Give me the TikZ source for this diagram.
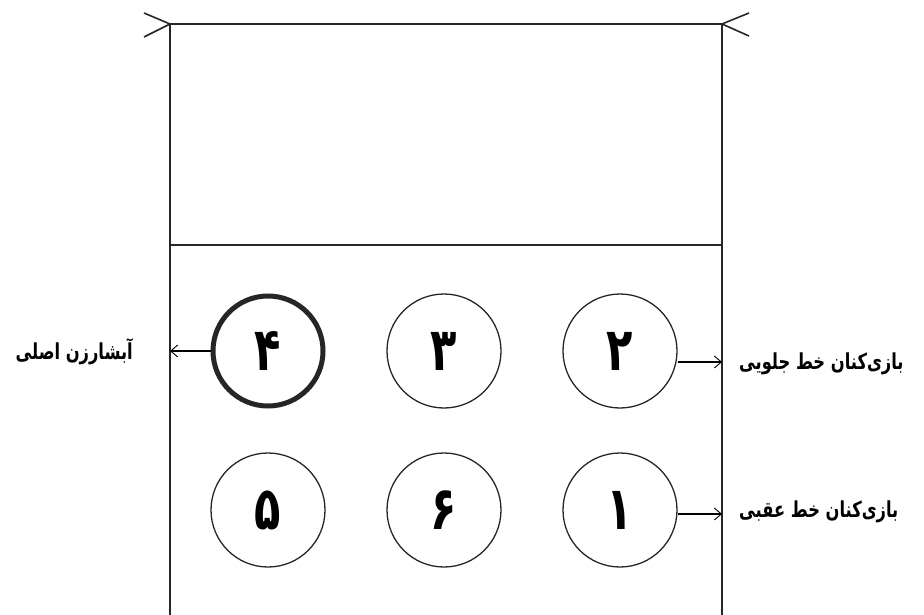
\documentclass[tikz,border=0pt]{standalone}
\usepackage{fontspec}
\usetikzlibrary{arrows.meta}
\TeXXeTstate=1
\newfontfamily\arabicfont[Script=Arabic]{DejaVu Sans}
\newcommand{\digit}[1]{\scalebox{0.72}[1]{\beginR #1\endR}}
\newcommand{\plabel}[1]{\scalebox{0.74}[1]{\beginR #1\endR}}
\tikzset{
  court/.style={line width=1.6pt, black!85},
  player/.style={circle, draw=black!85, line width=1.3pt, minimum size=114pt, inner sep=0pt, font=\arabicfont\fontsize{60}{60}\selectfont\bfseries},
  setter/.style={player, line width=5pt, minimum size=110pt},
  lbl/.style={font=\arabicfont\fontsize{22}{24}\selectfont\bfseries, inner sep=0pt},
  pointer/.style={line width=1.1pt, -{Straight Barb[length=7pt,width=12pt,line width=0.9pt]}}
}
\begin{document}
\begin{tikzpicture}[x=1pt,y=-1pt]
\useasboundingbox (0,0) rectangle (924,615);
% net and court
\coordinate (tl) at (170,24);
\coordinate (tr) at (722,24);
\coordinate (bl) at (170,615);
\coordinate (br) at (722,615);
\coordinate (ml) at (170,245);
\coordinate (mr) at (722,245);
\coordinate (ta) at (144,13);
\coordinate (tb) at (144,37);
\coordinate (ua) at (749,13);
\coordinate (ub) at (749,36);
\draw[court] (bl) -- (tl) -- (tr) -- (br);
\draw[court] (ml) -- (mr);
\draw[court] (ta) -- (tl) -- (tb);
\draw[court] (ua) -- (tr) -- (ub);
% players
\node[setter] (c4) at (268,351) {\digit{۴}};
\node[player] (c3) at (444,351) {\digit{۳}};
\node[player] (c2) at (620,351) {\digit{۲}};
\node[player] (c5) at (268,510) {\digit{۵}};
\node[player] (c6) at (444,510) {\digit{۶}};
\node[player] (c1) at (620,510) {\digit{۱}};
% pointer ends
\coordinate (p4) at (170,351);
\coordinate (p2) at (722,362);
\coordinate (p1) at (722,514);
\draw[pointer] (c4.west) -- (p4);
\draw[pointer] (c2.east |- p2) -- (p2);
\draw[pointer] (c1.east |- p1) -- (p1);
% labels
\node[lbl, anchor=east] (l4) at (133,352) {\plabel{آبشارزن اصلی}};
\node[lbl, anchor=west] (l2) at (739,364) {\plabel{بازی‌کنان خط جلویی}};
\node[lbl, anchor=west] (l1) at (739,512) {\plabel{بازی‌کنان خط عقبی}};
\end{tikzpicture}
\end{document}
